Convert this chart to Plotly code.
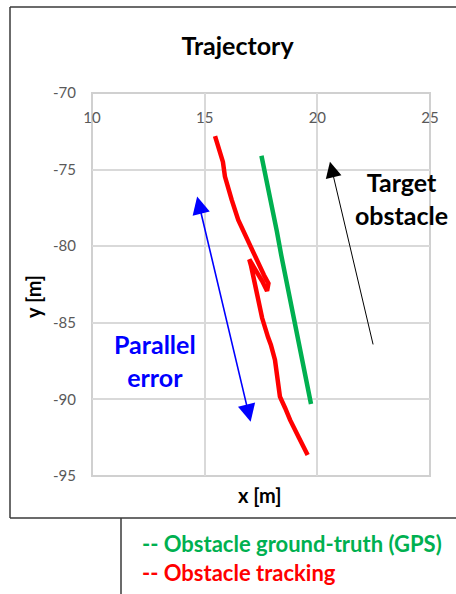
import plotly.graph_objects as go

# ---- data ----
gt_x = [17.52, 17.75, 18.0, 18.2, 18.4, 18.7, 18.95, 19.15, 19.32, 19.5, 19.72]
gt_y = [-74.1, -75.7, -77.3, -79.0, -80.6, -82.8, -85.0, -86.3, -87.4, -88.8, -90.3]

trk_x = [15.46, 15.64, 15.81, 15.90, 16.04, 16.20, 16.49, 16.79, 17.09, 17.37, 17.63, 17.83,
         17.77, 17.55, 17.28, 16.98, 17.06, 17.19, 17.38, 17.55, 17.81, 17.94, 18.12, 18.21,
         18.34, 18.57, 18.79, 19.19, 19.57]
trk_y = [-72.81, -73.72, -74.50, -75.46, -76.20, -76.98, -78.29, -79.27, -80.25, -81.10, -81.88, -82.42,
         -82.92, -82.27, -81.55, -80.86, -81.29, -82.21, -83.73, -84.69, -85.93, -86.45, -87.43, -88.60,
         -89.82, -90.56, -91.34, -92.52, -93.63]

x_ticks = [10, 15, 20, 25]
y_ticks = [-70, -75, -80, -85, -90, -95]

# annotation arrows (head, tail) in data units
par_err_a = (14.65, -76.66)
par_err_b = (17.04, -91.46)
target_head = (20.56, -74.48)
target_tail = (22.49, -86.51)

GREEN = "#00B050"
RED = "#FF0000"
BLUE = "#0000FF"
FONT = "Lato"

W, H = 456, 594
ML, MR, MT, MB = 92, 26, 93, 118
PW, PH = W - ML - MR, H - MT - MB


def px(xp):
    return (xp - ML) / PW


def py(yp):
    return (H - MB - yp) / PH


fig = go.Figure()
fig.add_trace(go.Scatter(x=gt_x, y=gt_y, mode="lines",
                         line=dict(color=GREEN, width=4.5), showlegend=False, hoverinfo="skip"))
fig.add_trace(go.Scatter(x=trk_x, y=trk_y, mode="lines",
                         line=dict(color=RED, width=4.5), showlegend=False, hoverinfo="skip"))


def label(x, y, text, size, color, xanchor="center", angle=0):
    return dict(x=px(x), y=py(y), xref="paper", yref="paper", text=text,
                xanchor=xanchor, yanchor="middle", textangle=angle,
                showarrow=False, align="center",
                font=dict(family=FONT, size=size, color=color))


annotations = [
    # blue double arrow
    dict(x=par_err_b[0], y=par_err_b[1], ax=par_err_a[0], ay=par_err_a[1],
         xref="x", yref="y", axref="x", ayref="y", text="", showarrow=True,
         arrowhead=2, arrowsize=2.2, arrowwidth=1.6, arrowcolor=BLUE,
         arrowside="end+start", startarrowhead=2, startarrowsize=2.2,
         standoff=0, startstandoff=0),
    # black arrow
    dict(x=target_head[0], y=target_head[1], ax=target_tail[0], ay=target_tail[1],
         xref="x", yref="y", axref="x", ayref="y", text="", showarrow=True,
         arrowhead=2, arrowsize=3.2, arrowwidth=1, arrowcolor="black", standoff=0),
    label(401, 198, "<b>Target<br>obstacle</b>", 25, "black"),
    label(155, 360, "<b>Parallel<br>error</b>", 25, BLUE),
    label(260, 495, "<b>x [m]</b>", 20, "black"),
    label(33, 297, "<b>y [m]</b>", 20, "black", angle=-90),
    label(140, 543, "<b>-- Obstacle ground-truth (GPS)</b>", 22, GREEN, xanchor="left"),
    label(140, 572, "<b>-- Obstacle tracking</b>", 22, RED, xanchor="left"),
]

frame = "#3a3a3a"
shapes = [
    dict(type="rect", xref="paper", yref="paper", x0=0, x1=1, y0=0, y1=1,
         line=dict(color="#D0D0D0", width=2), layer="below"),
    dict(type="line", xref="paper", yref="paper", x0=px(10), x1=px(10), y0=py(7), y1=py(518),
         line=dict(color=frame, width=1.5)),
    dict(type="line", xref="paper", yref="paper", x0=px(10), x1=px(470), y0=py(7), y1=py(7),
         line=dict(color=frame, width=1.5)),
    dict(type="line", xref="paper", yref="paper", x0=px(10), x1=px(470), y0=py(518), y1=py(518),
         line=dict(color=frame, width=1.5)),
    dict(type="line", xref="paper", yref="paper", x0=px(121), x1=px(121), y0=py(518), y1=py(600),
         line=dict(color=frame, width=1.5)),
]

fig.update_layout(
    width=W, height=H,
    margin=dict(l=ML, r=MR, t=MT, b=MB),
    paper_bgcolor="white", plot_bgcolor="white",
    font=dict(family=FONT),
    title=dict(text="<b>Trajectory</b>", x=237.5 / W, xanchor="center",
               y=1 - 46 / H, yanchor="middle", yref="container",
               font=dict(family=FONT, size=25, color="black")),
    annotations=annotations,
    shapes=shapes,
    xaxis=dict(range=[10, 25], tickvals=x_ticks, ticktext=[str(v) for v in x_ticks],
               anchor="free", position=1, side="bottom",
               showgrid=True, gridcolor="#D9D9D9", gridwidth=2,
               showline=False, zeroline=False, ticks="",
               ticklabelstandoff=14,
               tickfont=dict(family=FONT, size=15, color="#595959")),
    yaxis=dict(range=[-95, -70], tickvals=y_ticks, ticktext=[str(v) for v in y_ticks],
               showgrid=True, gridcolor="#D9D9D9", gridwidth=2,
               showline=False, zeroline=False, ticks="",
               ticklabelstandoff=15,
               tickfont=dict(family=FONT, size=15, color="#595959")),
)

fig.write_html("out.html")
